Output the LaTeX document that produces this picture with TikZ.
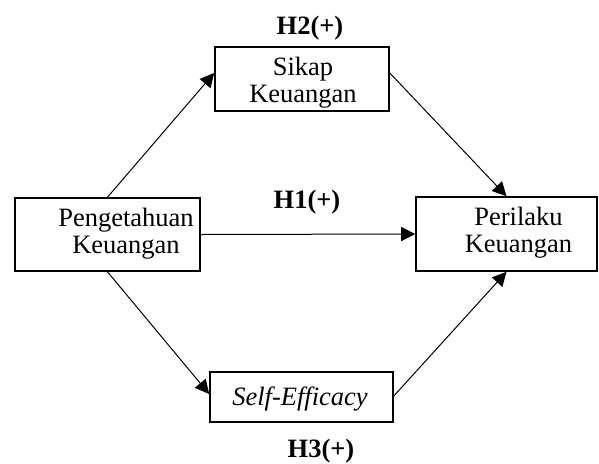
\documentclass[tikz,border=0pt]{standalone}
\usepackage{fontspec}
\setmainfont{Liberation Serif}
\usepackage{tikz}
\usetikzlibrary{arrows.meta}

\begin{document}
\begin{tikzpicture}[->,>={Triangle[length=7pt,width=7pt]},x=1pt,y=1pt,line width=0.5pt,
    box/.style={draw,line width=0.8pt,inner sep=0pt},
    txt/.style={align=center,inner sep=0pt,font=\fontsize{13.25}{13.6}\selectfont},
    hyp/.style={anchor=base,inner sep=0pt,font=\fontsize{13.25}{13.6}\selectfont\bfseries}]

    \useasboundingbox (0,0) rectangle (299.5,231.5);

    % boxes
    \node[box,minimum width=92.5pt,minimum height=36.5pt] (peng)  at (53.75,114.25) {};
    \node[box,minimum width=87pt,minimum height=32pt]     (sikap) at (151,192)      {};
    \node[box,minimum width=90.5pt,minimum height=37pt]   (peril) at (253.25,114.5) {};
    \node[box,minimum width=91.5pt,minimum height=25pt]   (self)  at (150.75,33)    {};

    % box texts
    \node[txt] (pengtxt)  at ([xshift=9.25pt,yshift=0.5pt]peng.center) {Pengetahuan\\Keuangan};
    \node[txt] (sikaptxt) at ([xshift=0.5pt,yshift=-2pt]sikap.center)  {Sikap\\Keuangan};
    \node[txt] (periltxt) at ([xshift=6pt,yshift=0.5pt]peril.center)   {Perilaku\\Keuangan};
    \node[txt] (selftxt)  at ([xshift=-0.75pt,yshift=-1pt]self.center) {\itshape Self-Efficacy};

    % hypotheses
    \node[hyp] (h2) at (155,214.5) {H2(+)};
    \node[hyp] (h1) at (153.5,127.5) {H1(+)};
    \node[hyp] (h3) at (160.5,3) {H3(+)};

    \path       (peng.north) edge ([yshift=3pt]sikap.west)
                (peng.east)  edge (peril.west)
                (peng.south) edge ([yshift=1.5pt]self.west)
                ([yshift=3pt]sikap.east) edge (peril.north)
                ([yshift=0.5pt]self.east) edge (peril.south);
\end{tikzpicture}
\end{document}
